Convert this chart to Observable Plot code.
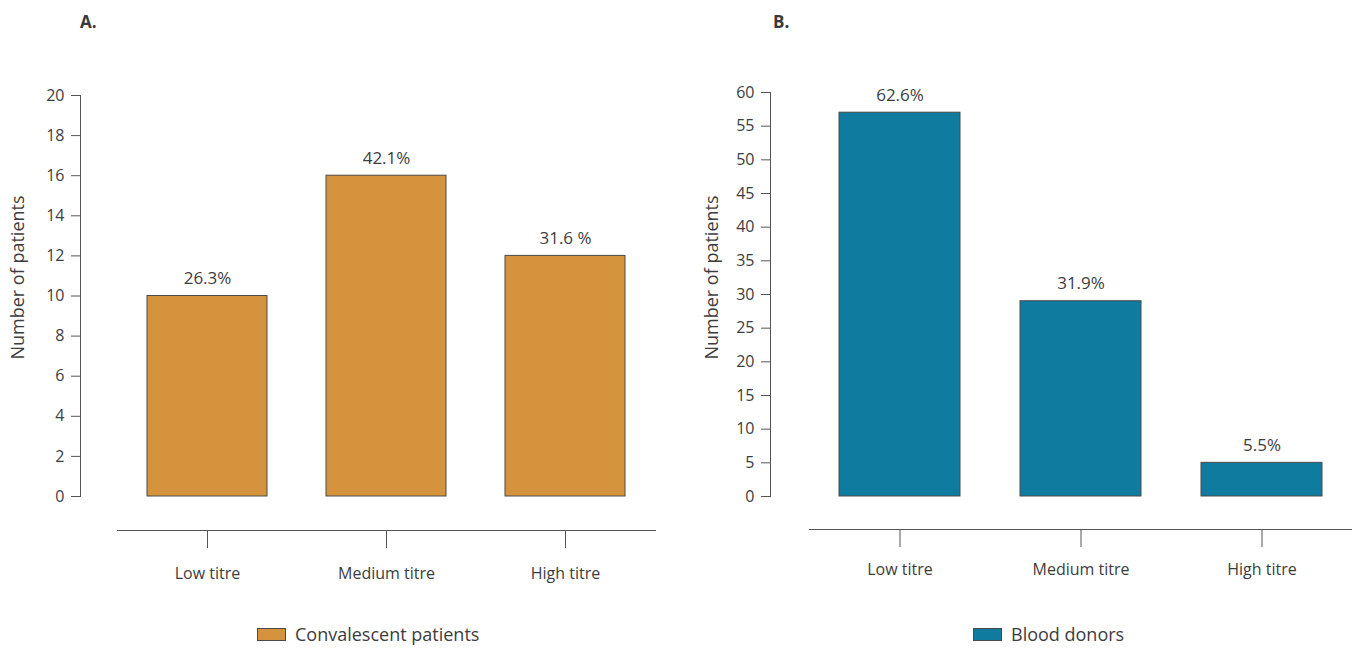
<!DOCTYPE html>
<html>
<head>
<meta charset="utf-8">
<script src="https://cdn.jsdelivr.net/npm/d3@7"></script>
<script src="https://cdn.jsdelivr.net/npm/@observablehq/plot@0.6"></script>
<style>
  html, body { margin: 0; padding: 0; background: #fff; }
  body { width: 1352px; height: 649px; position: relative; overflow: hidden; font-family: "Open Sans", sans-serif; color: #3d3d3d; }
  .panel { position: absolute; top: 0; }
  .title { position: absolute; top: 10px; font-weight: 700; font-size: 17px; color: #3a3a3a; }
  .legend { position: absolute; top: 622px; font-size: 18px; display: flex; align-items: center; color: #3d3d3d; }
  .sw { display: inline-block; width: 27px; height: 11px; border: 1px solid #4a4a4a; margin-right: 9px; }
</style>
</head>
<body>
<div class="title" style="left:80px">A.</div>
<div class="title" style="left:773px">B.</div>
<div id="a" class="panel" style="left:0px"></div>
<div id="b" class="panel" style="left:676px"></div>
<div class="legend" style="left:257px"><span class="sw" style="background:#D6933D"></span>Convalescent patients</div>
<div class="legend" style="left:973px"><span class="sw" style="background:#0F7B9E"></span>Blood donors</div>
<script>
const categories = ["Low titre", "Medium titre", "High titre"];
const convalescentCounts = [10, 16, 12];
const convalescentPct = ["26.3%", "42.1%", "31.6 %"];
const donorCounts = [57, 29, 5];
const donorPct = ["62.6%", "31.9%", "5.5%"];
const yTicksA = [0, 2, 4, 6, 8, 10, 12, 14, 16, 18, 20];
const yTicksB = [0, 5, 10, 15, 20, 25, 30, 35, 40, 45, 50, 55, 60];
const yLabel = "Number of patients";

function panel({counts, pct, ticks, ymax, fill, marginLeft, marginRight, xStart, xEnd, yTop, yZero, xLine, tickPad, labelX}) {
  const data = categories.map((c, i) => ({cat: c, value: counts[i], pct: pct[i]}));
  const height = 600;
  return Plot.plot({
    width: 676,
    height,
    marginLeft,
    marginRight,
    marginTop: yTop,
    marginBottom: height - xLine,
    style: {fontFamily: "'Open Sans', sans-serif", fontSize: "16px", color: "#3d3d3d", background: "transparent"},
    x: {domain: categories, range: [xStart, xEnd], paddingInner: 0.33, paddingOuter: 0.165, align: 0.5},
    y: {domain: [0, ymax], range: [yZero, yTop]},
    marks: [
      Plot.frame({anchor: "left", insetBottom: xLine - yZero, stroke: "#555", strokeOpacity: 1}),
      Plot.frame({anchor: "bottom", insetLeft: xStart - marginLeft, stroke: "#555", strokeOpacity: 1}),
      Plot.axisY({ticks, tickSize: 9, tickPadding: 7, label: null, stroke: "#555", fontSize: 16}),
      Plot.axisX({tickSize: 18, tickPadding: tickPad, label: null, stroke: "#555", fontSize: 16}),
      Plot.text([yLabel], {frameAnchor: "left", textAnchor: "middle", rotate: -90, dx: -(marginLeft - labelX), dy: -((xLine + yTop) / 2 - 277), fontSize: 18, fill: "#3d3d3d"}),
      Plot.barY(data, {x: "cat", y: "value", fill, stroke: "#4a4a4a", strokeWidth: 1}),
      Plot.text(data, {x: "cat", y: "value", text: "pct", dy: -12, lineAnchor: "bottom", fontSize: 17, fill: "#3d3d3d"})
    ]
  });
}

document.getElementById("a").append(panel({
  counts: convalescentCounts, pct: convalescentPct, ticks: yTicksA, ymax: 20, fill: "#D6933D",
  marginLeft: 80, marginRight: 21, xStart: 117, xEnd: 655, yTop: 95, yZero: 496, xLine: 530, tickPad: 19, labelX: 18
}));
document.getElementById("b").append(panel({
  counts: donorCounts, pct: donorPct, ticks: yTicksB, ymax: 60, fill: "#0F7B9E",
  marginLeft: 94, marginRight: 0, xStart: 133, xEnd: 676, yTop: 92, yZero: 496, xLine: 529, tickPad: 16, labelX: 36
}));
</script>
</body>
</html>
